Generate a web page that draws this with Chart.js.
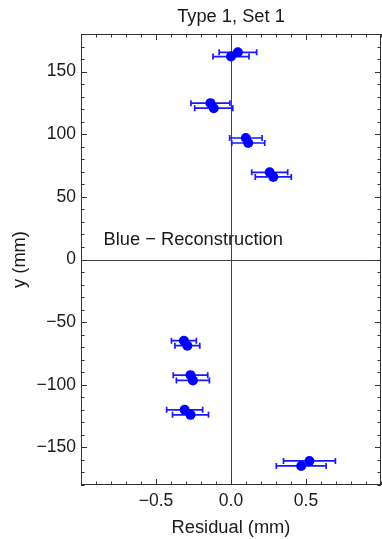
<!DOCTYPE html>
<html>
<head>
<meta charset="utf-8">
<script src="https://cdn.jsdelivr.net/npm/chart.js@4/dist/chart.umd.min.js"></script>
<style>
  html, body { margin: 0; padding: 0; background: #fff; }
  canvas { display: block; }
</style>
</head>
<body>
<canvas id="resid" width="382" height="539"></canvas>
<script>
// residual (mm) of each reconstructed point, its y position (mm) and error half-width
const residual = [0.046, 0.0, -0.137, -0.115, 0.099, 0.115, 0.258, 0.282,
                  -0.314, -0.291, -0.27, -0.254, -0.309, -0.27, 0.523, 0.468];
const yPos = [165.4, 162, 124.8, 120.8, 97, 93, 69.6, 65.9,
              -64.8, -68.8, -92.3, -96.5, -120, -124, -160.8, -164.8];
const resErr = [0.125, 0.12, 0.13, 0.127, 0.108, 0.11, 0.12, 0.12,
                0.083, 0.083, 0.115, 0.11, 0.12, 0.12, 0.173, 0.166];

// major tick labels, minor tick spacing
const xTicks = [-0.5, 0, 0.5];
const yTicks = [-150, -100, -50, 0, 50, 100, 150];
const xMinorStep = 0.1;
const yMinorStep = 10;

const FONT = '"Liberation Sans", Arial, Helvetica, sans-serif';
const TEXT = '#1a1a1a';
const TITLE_SIZE = 18.3;
const TICK_SIZE = 17.5;

const fmt = (v, digits) => (v < 0 ? '\u2212' : '') + Math.abs(v).toFixed(digits);

const framePlugin = {
  id: 'framePlugin',
  beforeDatasetsDraw(chart) {
    const {ctx, chartArea: a, scales: {x, y}} = chart;
    ctx.save();
    // axes through the origin
    ctx.strokeStyle = '#444';
    ctx.lineWidth = 1;
    const x0 = Math.round(x.getPixelForValue(0)) + 0.5;
    const y0 = Math.round(y.getPixelForValue(0)) + 0.5;
    ctx.beginPath();
    ctx.moveTo(x0, a.top); ctx.lineTo(x0, a.bottom);
    ctx.moveTo(a.left, y0); ctx.lineTo(a.right, y0);
    ctx.stroke();

    // horizontal error bars with caps
    ctx.strokeStyle = 'rgb(25,25,255)';
    ctx.lineWidth = 1.7;
    residual.forEach((r, i) => {
      const py = y.getPixelForValue(yPos[i]);
      const xl = x.getPixelForValue(r - resErr[i]);
      const xr = x.getPixelForValue(r + resErr[i]);
      ctx.beginPath();
      ctx.moveTo(xl, py); ctx.lineTo(xr, py);
      ctx.moveTo(xl, py - 3); ctx.lineTo(xl, py + 3);
      ctx.moveTo(xr, py - 3); ctx.lineTo(xr, py + 3);
      ctx.stroke();
    });
    ctx.restore();
  },
  afterDraw(chart) {
    const {ctx, chartArea: a, scales: {x, y}} = chart;
    ctx.save();
    ctx.strokeStyle = '#333';
    ctx.lineWidth = 1;
    ctx.strokeRect(a.left + 0.5, a.top + 0.5, a.right - a.left - 1, a.bottom - a.top - 1);

    // inward ticks on all four sides
    ctx.beginPath();
    for (let k = Math.ceil(x.min / xMinorStep); k * xMinorStep <= x.max + 1e-9; k++) {
      const v = k * xMinorStep;
      const major = xTicks.some(t => Math.abs(t - v) < 1e-6);
      const len = major ? 6 : 3.5;
      const px = Math.round(x.getPixelForValue(v)) + 0.5;
      ctx.moveTo(px, a.bottom); ctx.lineTo(px, a.bottom - len);
      ctx.moveTo(px, a.top); ctx.lineTo(px, a.top + len);
    }
    for (let k = Math.ceil(y.min / yMinorStep); k * yMinorStep <= y.max; k++) {
      const v = k * yMinorStep;
      const major = yTicks.includes(v);
      const len = major ? 6 : 3.5;
      const py = Math.round(y.getPixelForValue(v)) + 0.5;
      ctx.moveTo(a.left, py); ctx.lineTo(a.left + len, py);
      ctx.moveTo(a.right, py); ctx.lineTo(a.right - len, py);
    }
    ctx.stroke();

    // title over the plot area
    ctx.fillStyle = TEXT;
    ctx.font = TITLE_SIZE + 'px ' + FONT;
    ctx.textAlign = 'center';
    ctx.textBaseline = 'middle';
    ctx.fillText('Type 1, Set 1', (a.left + a.right) / 2, 17);

    // series note
    ctx.textAlign = 'left';
    ctx.fillText('Blue \u2212 Reconstruction', x.getPixelForValue(-0.85), y.getPixelForValue(15.2));
    ctx.restore();
  }
};

new Chart(document.getElementById('resid'), {
  type: 'scatter',
  data: {
    datasets: [{
      label: 'Reconstruction',
      data: residual.map((r, i) => ({x: r, y: yPos[i]})),
      pointRadius: 5,
      pointHoverRadius: 5,
      backgroundColor: '#0000ff',
      borderWidth: 0
    }]
  },
  options: {
    responsive: false,
    animation: false,
    layout: {autoPadding: false, padding: {top: 34, right: 1, left: 0, bottom: 0}},
    plugins: {legend: {display: false}, tooltip: {enabled: false}},
    scales: {
      x: {
        min: -1, max: 1,
        afterFit: s => { s.height = 54; s.paddingLeft = 0; s.paddingRight = 0; },
        afterBuildTicks: s => { s.ticks = xTicks.map(v => ({value: v})); },
        grid: {display: false, drawTicks: false},
        border: {display: false},
        ticks: {
          padding: 6, maxRotation: 0, autoSkip: false,
          color: TEXT, font: {family: FONT, size: TICK_SIZE},
          callback: v => fmt(v, 1)
        },
        title: {
          display: true, text: 'Residual (mm)', color: TEXT,
          font: {family: FONT, size: TITLE_SIZE}, padding: {top: 0, bottom: 0}
        }
      },
      y: {
        min: -180, max: 180,
        afterFit: s => { s.width = 81; s.paddingTop = 0; s.paddingBottom = 0; },
        afterBuildTicks: s => { s.ticks = yTicks.map(v => ({value: v})); },
        grid: {display: false, drawTicks: false},
        border: {display: false},
        ticks: {
          padding: 5, autoSkip: false,
          color: TEXT, font: {family: FONT, size: TICK_SIZE},
          callback: v => fmt(v, 0)
        },
        title: {
          display: true, text: 'y (mm)', color: TEXT,
          font: {family: FONT, size: TITLE_SIZE}, padding: {top: 9, bottom: 0}
        }
      }
    }
  },
  plugins: [framePlugin]
});
</script>
</body>
</html>
